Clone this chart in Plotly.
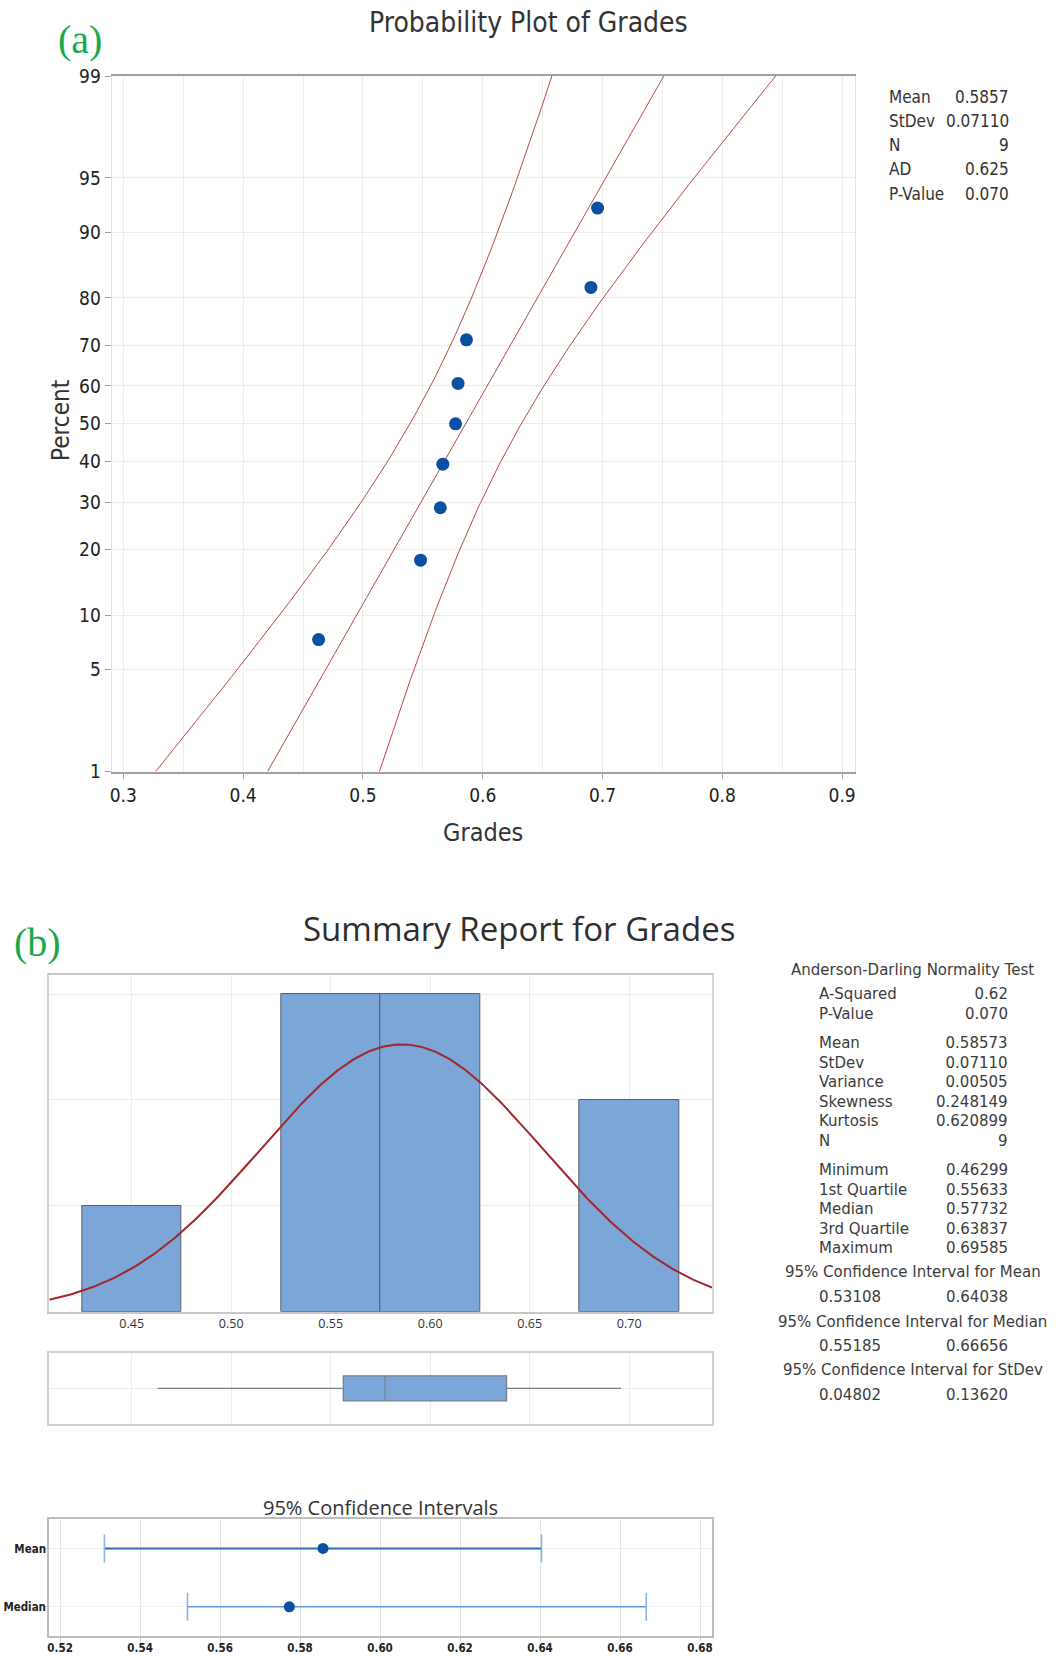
import numpy as np
import plotly.graph_objects as go
from statistics import NormalDist

W, H = 1059, 1656

# ---------------- data ----------------
grades = [0.46299, 0.5481, 0.5646, 0.5667, 0.57732, 0.5794, 0.5864, 0.6903, 0.69585]
plot_percent = [7.45, 18.09, 28.72, 39.36, 50.0, 60.64, 71.28, 81.91, 92.55]
prob_ticks = [1, 5, 10, 20, 30, 40, 50, 60, 70, 80, 90, 95, 99]
prob_xticks = [0.3, 0.4, 0.5, 0.6, 0.7, 0.8, 0.9]

mean_val = 0.58573
sd_val = 0.07110
n_val = 9

stats_a_labels = ["Mean", "StDev", "N", "AD", "P-Value"]
stats_a_values = ["0.5857", "0.07110", "9", "0.625", "0.070"]

hist_start, hist_end, hist_size = 0.425, 0.725, 0.05
hist_ticks = [0.45, 0.50, 0.55, 0.60, 0.65, 0.70]

box_min, box_q1, box_median, box_q3, box_max = 0.46299, 0.55633, 0.57732, 0.63837, 0.69585

ad_labels = ["A-Squared", "P-Value"]
ad_values = ["0.62", "0.070"]
desc_labels = ["Mean", "StDev", "Variance", "Skewness", "Kurtosis", "N"]
desc_values = ["0.58573", "0.07110", "0.00505", "0.248149", "0.620899", "9"]
quant_labels = ["Minimum", "1st Quartile", "Median", "3rd Quartile", "Maximum"]
quant_values = ["0.46299", "0.55633", "0.57732", "0.63837", "0.69585"]
ci_headers = ["95% Confidence Interval for Mean",
              "95% Confidence Interval for Median",
              "95% Confidence Interval for StDev"]
ci_low_text = ["0.53108", "0.55185", "0.04802"]
ci_high_text = ["0.64038", "0.66656", "0.13620"]

ci_names = ["Mean", "Median"]
ci_center = [0.58573, 0.57732]
ci_low = [0.53108, 0.55185]
ci_high = [0.64038, 0.66656]
ci_xticks = [0.52, 0.54, 0.56, 0.58, 0.60, 0.62, 0.64, 0.66, 0.68]

# ---------------- styling ----------------
NARROW = "Liberation Sans Narrow, Arial Narrow, DejaVu Sans Condensed, Liberation Sans, sans-serif"
SANS = "Open Sans, Noto Sans, sans-serif"
STATF = "DejaVu Sans, Open Sans, sans-serif"
SERIF = "Liberation Serif, DejaVu Serif, serif"
GREEN = "#19a94c"
RED = "#b84a44"
BAR = "#7ba6d7"


def px(p):
    return p / W


def py(p):
    return 1 - p / H


def xd(p0, p1):
    return [px(p0), px(p1)]


def yd(top, bottom):
    return [py(bottom), py(top)]


nd = NormalDist()
fig = go.Figure()

# ---------------- (a) probability plot ----------------
zmax = nd.inv_cdf(0.99)
zz = np.linspace(-zmax, zmax, 200)
fit_x = mean_val + zz * sd_val
half = 1.96 * sd_val * np.sqrt(1.0 / n_val + zz ** 2 / (2 * (n_val - 1)))
for xs in (fit_x - half, fit_x, fit_x + half):
    fig.add_trace(go.Scatter(x=xs, y=zz, mode="lines", line=dict(color=RED, width=1),
                             hoverinfo="skip", showlegend=False, xaxis="x", yaxis="y"))
fig.add_trace(go.Scatter(x=grades, y=[nd.inv_cdf(p / 100) for p in plot_percent],
                         mode="markers", marker=dict(color="#0b4fa3", size=13),
                         showlegend=False, xaxis="x", yaxis="y"))

# ---------------- (b) histogram ----------------
fig.add_trace(go.Histogram(x=grades, xbins=dict(start=hist_start, end=hist_end, size=hist_size),
                           marker=dict(color=BAR, line=dict(color="#55606e", width=1)),
                           showlegend=False, xaxis="x2", yaxis="y2"))
cx = np.linspace(0.4086, 0.7416, 300)
cy = n_val * hist_size * np.exp(-0.5 * ((cx - mean_val) / sd_val) ** 2) / (sd_val * np.sqrt(2 * np.pi))
fig.add_trace(go.Scatter(x=cx, y=cy, mode="lines", line=dict(color="#a3262b", width=2),
                         hoverinfo="skip", showlegend=False, xaxis="x2", yaxis="y2"))

# ---------------- box plot ----------------
fig.add_trace(go.Box(q1=[box_q1], median=[box_median], q3=[box_q3],
                     lowerfence=[box_min], upperfence=[box_max], y=[0], orientation="h",
                     width=0.7, whiskerwidth=0, fillcolor=BAR,
                     line=dict(color="#75808c", width=1.3), boxpoints=False,
                     showlegend=False, xaxis="x3", yaxis="y3"))

# ---------------- CI plot ----------------
ci_y = [1, 0]
line_cols = ["#2c6cb7", "#5f97d4"]
line_w = [2, 1.5]
for i in range(2):
    fig.add_trace(go.Scatter(x=[ci_low[i], ci_high[i]], y=[ci_y[i], ci_y[i]], mode="lines",
                             line=dict(color=line_cols[i], width=line_w[i]),
                             showlegend=False, hoverinfo="skip", xaxis="x4", yaxis="y4"))
    fig.add_trace(go.Scatter(x=[ci_low[i], ci_high[i]], y=[ci_y[i], ci_y[i]], mode="markers",
                             marker=dict(symbol="line-ns", size=20,
                                         line=dict(color="#8ab6e6", width=1.6)),
                             showlegend=False, hoverinfo="skip", xaxis="x4", yaxis="y4"))
fig.add_trace(go.Scatter(x=ci_center, y=ci_y, mode="markers",
                         marker=dict(color="#0b4fa3", size=11),
                         showlegend=False, xaxis="x4", yaxis="y4"))

# ---------------- axes ----------------
GRID = "#ececec"
fig.update_layout(
    width=W, height=H, autosize=False,
    margin=dict(l=0, r=0, t=0, b=0, pad=0),
    paper_bgcolor="white", plot_bgcolor="white",
    showlegend=False,
    bargap=0,
    xaxis=dict(domain=xd(111.6, 854.6), range=[0.2902, 0.9104], automargin=False,
               tickvals=prob_xticks, ticktext=[f"{v:.1f}" for v in prob_xticks],
               ticks="outside", ticklen=6, tickcolor="#a0a0a0",
               showgrid=True, gridcolor=GRID,
               minor=dict(tickvals=[0.35, 0.45, 0.55, 0.65, 0.75, 0.85], showgrid=True,
                          gridcolor=GRID, ticks=""),
               showline=True, mirror=True, linecolor="#a0a0a0", linewidth=1.5,
               zeroline=False, tickfont=dict(family=NARROW, size=19, color="#222"),
               anchor="y"),
    yaxis=dict(domain=yd(76, 771.6), range=[-zmax, zmax], automargin=False,
               tickvals=[nd.inv_cdf(p / 100) for p in prob_ticks],
               ticktext=[str(p) for p in prob_ticks],
               ticks="outside", ticklen=6, tickcolor="#a0a0a0",
               showgrid=True, gridcolor=GRID, zeroline=False,
               showline=True, mirror=True, linecolor="#e2e2e2", linewidth=1,
               tickfont=dict(family=NARROW, size=19, color="#222"),
               anchor="x"),
    xaxis2=dict(domain=xd(49.3, 712), range=[0.4086, 0.7416], automargin=False,
                tickvals=hist_ticks, ticktext=[f"{v:.2f}" for v in hist_ticks],
                ticks="", showgrid=True, gridcolor=GRID, zeroline=False,
                showline=True, mirror=True, linecolor="#c8c8c8", linewidth=1.5,
                tickfont=dict(family=SANS, size=12.5, color="#333"), anchor="y2"),
    yaxis2=dict(domain=yd(975, 1311.7), range=[0, 3.18], automargin=False,
                tickvals=[1, 2, 3], showticklabels=False, ticks="",
                showgrid=True, gridcolor=GRID, zeroline=False,
                showline=True, mirror=True, linecolor="#d4d4d4", linewidth=1.5,
                anchor="x2"),
    xaxis3=dict(domain=xd(49.3, 712), range=[0.4086, 0.7416], automargin=False,
                tickvals=hist_ticks, showticklabels=False, ticks="",
                showgrid=True, gridcolor=GRID, zeroline=False,
                showline=True, mirror=True, linecolor="#d0d0d0", linewidth=1.5,
                anchor="y3"),
    yaxis3=dict(domain=yd(1352.7, 1424), range=[-1, 1], automargin=False,
                tickvals=[0], showticklabels=False, ticks="",
                showgrid=True, gridcolor=GRID, zeroline=False,
                showline=True, mirror=True, linecolor="#d0d0d0", linewidth=1.5,
                anchor="x3"),
    xaxis4=dict(domain=xd(49.3, 712), range=[0.5173, 0.683], automargin=False,
                tickvals=ci_xticks, ticktext=[f"{v:.2f}" for v in ci_xticks],
                ticks="outside", ticklen=3, tickcolor="#c8c8c8", ticklabelstandoff=-3,
                showgrid=True, gridcolor="#e6e6e6", zeroline=False,
                showline=True, mirror=True, linecolor="#bdbdbd", linewidth=2,
                tickfont=dict(family=NARROW, size=11.5, color="#222", weight="bold"),
                anchor="y4"),
    yaxis4=dict(domain=yd(1519.3, 1636), range=[-0.5, 1.5], automargin=False,
                tickvals=ci_y, ticktext=ci_names,
                ticks="outside", ticklen=2, tickcolor="#d0d0d0", ticklabelstandoff=-3,
                showgrid=True, gridcolor="#f0f0f0", zeroline=False,
                showline=True, mirror=True, linecolor="#bdbdbd", linewidth=2,
                tickfont=dict(family=NARROW, size=11.5, color="#222", weight="bold"),
                anchor="x4"),
)

# ---------------- text ----------------
ann = []


def text(s, x, y, size, family=SANS, color="#333", xanchor="center", angle=0, align="center"):
    ann.append(dict(text=s, x=px(x), y=py(y), xref="paper", yref="paper",
                    xanchor=xanchor, yanchor="middle", showarrow=False, textangle=angle,
                    align=align, borderpad=0,
                    font=dict(family=family, size=size, color=color)))


text("(a)", 80, 40, 40, SERIF, GREEN)
text("Probability Plot of Grades", 528.5, 23, 28, NARROW, "#333")
text("Percent", 61, 421, 24, NARROW, "#333", angle=-90)
text("Grades", 483, 832, 25, NARROW, "#333")
ya = [96.8, 121, 145.2, 169.4, 193.7]
for lab, val, y in zip(stats_a_labels, stats_a_values, ya):
    text(lab, 888, y, 17, NARROW, "#333", xanchor="left")
    text(val, 1010, y, 17, NARROW, "#333", xanchor="right")

text("(b)", 37.5, 942.5, 40, SERIF, GREEN)
text("Summary Report for Grades", 519, 928, 33, SANS, "#2e2e2e")
text("95% Confidence Intervals", 380.5, 1507, 20, SANS, "#333")

SB = 15
SC = "#3c3c3c"
LX, RX = 817.7, 1009
text("Anderson-Darling Normality Test", 912.5, 970, SB, STATF, SC)
for labs, vals, yc in ((ad_labels, ad_values, (994 + 1013.3) / 2),
                       (desc_labels, desc_values, (1043.3 + 1140.7) / 2),
                       (quant_labels, quant_values, (1169.3 + 1247.7) / 2)):
    text("<br>".join(labs), LX, yc, SB, STATF, SC, xanchor="left", align="left")
    text("<br>".join(vals), RX, yc, SB, STATF, SC, xanchor="right", align="right")
for hdr, lo, hi, yh, yv in zip(ci_headers, ci_low_text, ci_high_text,
                               [1272.3, 1321.7, 1370], [1296.7, 1346, 1395]):
    text(hdr, 912.5, yh, SB, STATF, SC)
    text(lo, LX, yv, SB, STATF, SC, xanchor="left")
    text(hi, RX, yv, SB, STATF, SC, xanchor="right")

fig.update_layout(annotations=ann)
fig.write_html("out.html")
